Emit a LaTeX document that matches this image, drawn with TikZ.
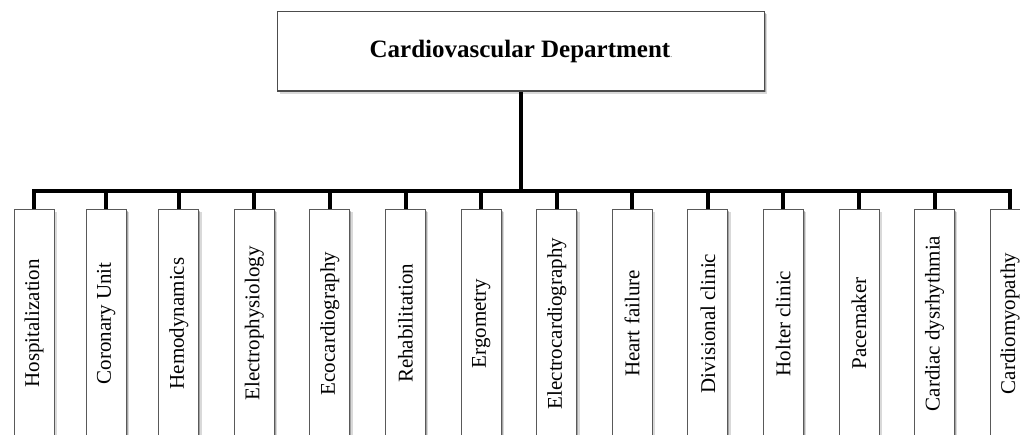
\documentclass[tikz,border=0pt]{standalone}
\usepackage{fontspec}
\setmainfont{Liberation Serif}
\usetikzlibrary{shadows}
\begin{document}
\begin{tikzpicture}[x=1pt,y=-1pt,
  softshadow/.style={
    drop shadow={shadow xshift=2.6pt,shadow yshift=-2.6pt,fill=black,opacity=.15},
    drop shadow={shadow xshift=1.3pt,shadow yshift=-1.3pt,fill=black,opacity=.25}},
  headbox/.style={softshadow, draw=black!70, line width=1.3pt, fill=white,
    minimum width=487pt, minimum height=79.3pt, inner sep=0pt,
    font=\fontsize{25}{30}\selectfont\bfseries},
  unitbox/.style={softshadow, draw=black!65, line width=0.9pt, fill=white,
    minimum width=40pt, minimum height=228pt, inner sep=0pt,
    font=\fontsize{21}{25}\selectfont},
  conn/.style={line width=4pt, black}]
\useasboundingbox (0,0) rectangle (1020,435);
\clip (0,0) rectangle (1020,435);

% department head
\node[headbox] (head) at (520.8,51.3)
  {Cardiovascular Department{\fontsize{7}{8}\selectfont\mdseries.}};

% units
\foreach \x/\n/\t in {
  34/u1/Hospitalization,
  106.3/u2/Coronary Unit,
  178.9/u3/Hemodynamics,
  254.3/u4/Electrophysiology,
  329.9/u5/Ecocardiography,
  405.5/u6/Rehabilitation,
  481.2/u7/Ergometry,
  556.9/u8/Electrocardiography,
  632/u9/Heart failure,
  707.9/u10/Divisional clinic,
  783.3/u11/Holter clinic,
  859/u12/Pacemaker,
  934.5/u13/Cardiac dysrhythmia,
  1010/u14/Cardiomyopathy}
  \node[unitbox] (\n) at (\x,323.5) {\rotatebox{90}{\t}};

% connectors
\coordinate (bus) at (520.8,191);
\draw[conn] (head.south) -- (bus);
\draw[conn, line join=miter] (u1.north) -- (u1.north |- bus)
  -- (u14.north |- bus) -- (u14.north);
\foreach \n in {u2,u3,u4,u5,u6,u7,u8,u9,u10,u11,u12,u13}
  \draw[conn] (\n.north) -- (\n.north |- bus);
\end{tikzpicture}
\end{document}
